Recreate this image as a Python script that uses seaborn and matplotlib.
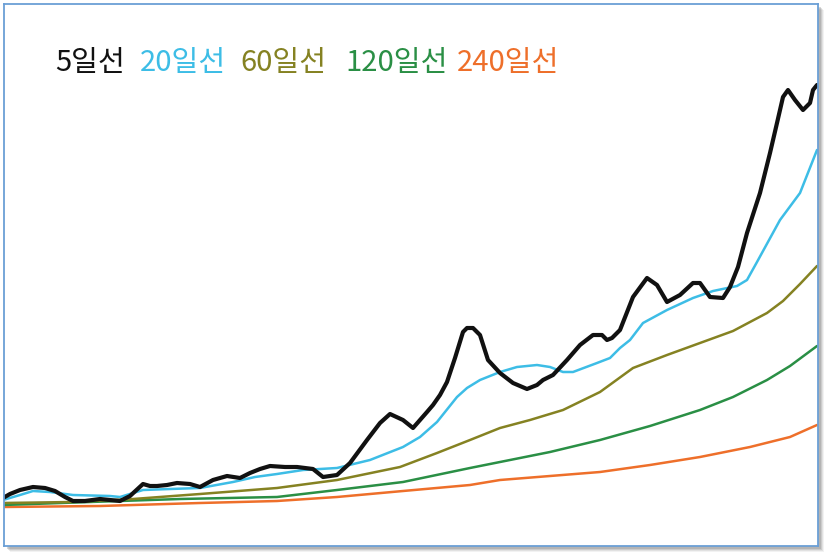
import numpy as np
import pandas as pd
import matplotlib
matplotlib.use("Agg")
import matplotlib.pyplot as plt
from matplotlib.patches import Rectangle
import seaborn as sns

# -----------------------------------------------------------
# DATA
# -----------------------------------------------------------
days_5 = [0, 7, 17, 30, 42, 52, 62, 70, 82, 97,
          107, 117, 127, 140, 147, 154, 164, 174, 187, 197,
          210, 224, 237, 247, 257, 267, 282, 294, 310, 320,
          334, 347, 364, 377, 387, 400, 410, 424, 430, 437,
          444, 452, 460, 464, 470, 477, 485, 497, 510, 524,
          534, 540, 550, 564, 577, 590, 599, 604, 609, 617,
          630, 644, 654, 664, 677, 690, 697, 707, 720, 727,
          735, 744, 757, 767, 774, 780, 785, 792, 800, 807,
          810, 814]
ma5 = [48, 52, 56, 59, 58, 55, 49, 45, 45, 47,
       46, 45, 50, 62, 60, 60, 61, 63, 62, 59,
       66, 70, 68, 73, 77, 80, 79, 79, 77, 69,
       71, 83, 106, 123, 132, 126, 118, 134, 141, 151,
       164, 188, 214, 218, 218, 211, 186, 173, 163, 157,
       161, 166, 171, 186, 201, 211, 211, 206, 208, 216,
       249, 268, 261, 244, 251, 263, 263, 249, 248, 259,
       279, 313, 353, 393, 423, 449, 456, 446, 436, 443,
       456, 461]

days_20 = [0, 17, 30, 47, 70, 107, 117, 140, 167, 197, 230, 252, 274, 300,
           334, 367, 400, 417, 434, 454, 464, 477, 497, 514, 534, 547, 560,
           570, 594, 607, 617, 627, 640, 664, 690, 710, 734, 744, 754, 777,
           797, 814]
ma20 = [46, 51, 55, 54, 51, 50, 49, 56, 57, 58, 64, 69, 72, 76,
        78, 86, 99, 109, 124, 149, 158, 166, 174, 179, 181, 179, 174,
        174, 183, 188, 198, 206, 223, 236, 248, 255, 260, 266, 284, 326,
        353, 396]

days_60 = [0, 70, 130, 197, 274, 334, 397, 434, 467, 497, 527, 560, 597,
           630, 664, 697, 730, 764, 780, 797, 814]
ma60 = [43, 44, 47, 52, 58, 66, 79, 93, 106, 118, 126, 136, 154,
        178, 191, 203, 215, 233, 245, 262, 280]

days_120 = [0, 87, 177, 274, 334, 400, 467, 497, 547, 597, 647, 697, 730,
            764, 787, 814]
ma120 = [41, 44, 47, 49, 56, 64, 78, 84, 94, 106, 120, 136, 149,
         166, 180, 200]

days_240 = [0, 97, 197, 274, 334, 400, 467, 497, 547, 597, 647, 697, 747,
            787, 814]
ma240 = [39, 40, 43, 45, 49, 55, 61, 66, 70, 74, 81, 89, 99,
         109, 121]

labels = ["5일선", "20일선", "60일선", "120일선", "240일선"]
colors = ["#111111", "#3dbde6", "#858222", "#2a8f45", "#ee6f2a"]
widths = [3.0, 1.8, 1.8, 1.8, 1.8]
label_x = [55, 140, 240, 345, 457]   # pixel positions of legend words

series = [(days_5, ma5), (days_20, ma20), (days_60, ma60),
          (days_120, ma120), (days_240, ma240)]

# -----------------------------------------------------------
# PLOT
# -----------------------------------------------------------
sns.set_theme(style="white")
plt.rcParams["font.family"] = ["Noto Sans CJK KR", "DejaVu Sans"]

W, H = 828, 555
fig = plt.figure(figsize=(W / 100, H / 100), dpi=100)
fig.patch.set_facecolor("white")

# soft shadow behind the frame
for off, a in [(6, 0.10), (5, 0.15), (4, 0.22), (3, 0.30)]:
    fig.patches.append(Rectangle(((4 + off) / W, (H - 546 - off) / H),
                                 814 / W, 542 / H, transform=fig.transFigure,
                                 facecolor="#808080", edgecolor="none",
                                 alpha=a, zorder=0))

ax = fig.add_axes([4 / W, (H - 546) / H, 814 / W, 542 / H])
ax.set_facecolor("white")
ax.set_zorder(1)

# draw long averages first so the 5-day line sits on top
for (d, v), c, lw in list(zip(series, colors, widths))[::-1]:
    df = pd.DataFrame({"day": d, "value": v})
    sns.lineplot(data=df, x="day", y="value", ax=ax, color=c, linewidth=lw,
                 estimator=None, sort=False)

ax.set_xlim(1, 815)
ax.set_ylim(0, 542)
ax.set_xticks([])
ax.set_yticks([])
ax.set_xlabel("")
ax.set_ylabel("")
for s in ax.spines.values():
    s.set_color("#6b9fd6")
    s.set_linewidth(1.3)

for lab, c, x in zip(labels, colors, label_x):
    fig.text(x / W, (H - 63) / H, lab, color=c, fontsize=21,
             ha="left", va="center", zorder=5)

fig.savefig("out.png", dpi=100)
plt.close(fig)
